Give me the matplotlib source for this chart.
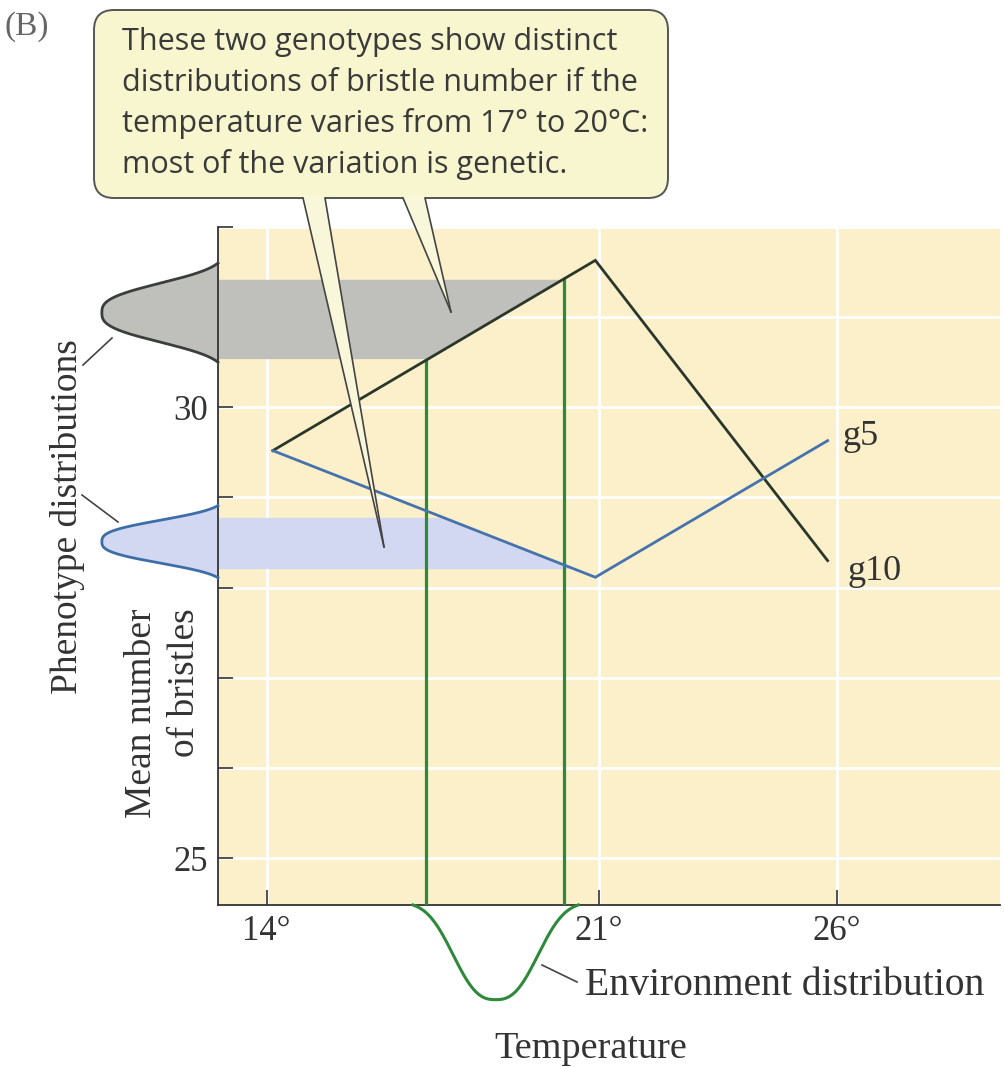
import numpy as np
import matplotlib
matplotlib.use("Agg")
import matplotlib.pyplot as plt
from matplotlib.patches import FancyBboxPatch, Polygon
from matplotlib.lines import Line2D
from matplotlib.transforms import IdentityTransform

# ---------------- data ----------------
temps_g = [14.13, 20.92, 25.81]          # vertices of the reaction norms (deg C)
g10_vals = [29.52, 31.63, 28.30]         # mean bristles, genotype g10
g5_vals = [29.52, 28.115, 29.63]         # mean bristles, genotype g5
env_range = [17.35, 20.26]               # temperature range (green verticals)
env_center = 18.82
env_halfspan = 1.74
env_depth = 1.05
gray_band = [30.54, 31.42]               # phenotype range of g10
blue_band = [28.21, 28.78]               # phenotype range of g5
gray_dist = [31.05, 0.55]                # centre, half-span
blue_dist = [28.51, 0.40]
dist_peak_x = 10.53
x_ticks = [14, 21, 26]
x_tick_labels = ["14°", "21°", "26°"]
y_ticks = [25, 26, 27, 28, 29, 30, 31, 32]
y_tick_labels = ["25", "", "", "", "", "30", "", ""]
box_lines = ["These two genotypes show distinct",
             "distributions of bristle number if the",
             "temperature varies from 17° to 20°C:",
             "most of the variation is genetic."]

W, H = 1005, 1067
SERIF = ["Liberation Serif", "DejaVu Serif"]
SANS = ["Open Sans", "DejaVu Sans"]

BG = "#fbf0ca"
G10C = "#2b372b"
G5C = "#4672ad"
GREEN = "#2e8a3a"
GRAYF = "#bfc0bb"
GRAYE = "#3b3f3b"
BLUEF = "#d3d8f2"
BLUEE = "#3d6ea8"
BOXF = "#f7f6cf"
TXT = "#333333"

fig = plt.figure(figsize=(W / 100, H / 100), dpi=100)
ax = fig.add_axes([218 / W, 1 - 905 / H, 782 / W, 678 / H])
xlim = (12.975, 29.44)
ylim = (24.48, 32.0)
ax.set_xlim(*xlim)
ax.set_ylim(*ylim)
ax.set_facecolor(BG)

for s in ["top", "right"]:
    ax.spines[s].set_visible(False)
for s in ["left", "bottom"]:
    ax.spines[s].set_color("#333333")
    ax.spines[s].set_linewidth(1.3)

ax.set_xticks(x_ticks)
ax.set_xticklabels(x_tick_labels)
ax.set_yticks(y_ticks)
ax.set_yticklabels(y_tick_labels)
ax.tick_params(direction="in", length=11, width=1.2, colors="#333333", pad=7)
for lab in ax.get_xticklabels() + ax.get_yticklabels():
    lab.set_family(SERIF)
    lab.set_fontsize(25)
    lab.set_color(TXT)
ax.grid(True, color="white", lw=2.0, zorder=0)
ax.set_axisbelow(True)

# bands bounded by the reaction norms
yb = np.linspace(gray_band[0], gray_band[1], 50)
xg = np.interp(yb, [g10_vals[0], g10_vals[1]], [temps_g[0], temps_g[1]])
ax.fill_betweenx(yb, xlim[0], xg, color=GRAYF, lw=0, zorder=1)
yb2 = np.linspace(blue_band[0], blue_band[1], 50)
xb = np.interp(yb2, [g5_vals[1], g5_vals[0]], [temps_g[1], temps_g[0]])
ax.fill_betweenx(yb2, xlim[0], xb, color=BLUEF, lw=0, zorder=1)

# phenotype distributions (left of the axis)
def profile(t, a=0.7, p=2.8):
    f = np.exp(-np.abs(t / a) ** p)
    f1 = np.exp(-(1 / a) ** p)
    return (f - f1) / (1 - f1)

amp = xlim[0] - dist_peak_x
t = np.linspace(-1, 1, 300)
for (c, h), fc, ec in [(gray_dist, GRAYF, GRAYE), (blue_dist, BLUEF, BLUEE)]:
    yy = c + h * t
    xx = xlim[0] - amp * profile(t)
    ax.fill_betweenx(yy, xx, xlim[0], color=fc, lw=0, clip_on=False, zorder=2)
    ax.plot(xx, yy, color=ec, lw=2.0, clip_on=False, zorder=3)

# environment distribution (below the axis)
te = np.linspace(-1, 1, 300)
xe = env_center + env_halfspan * te
ye = ylim[0] - env_depth * profile(te, a=0.62, p=2.6)
ax.plot(xe, ye, color=GREEN, lw=2.2, clip_on=False, zorder=3)

# green verticals up to g10
for xv in env_range:
    ytop = np.interp(xv, temps_g, g10_vals)
    ax.plot([xv, xv], [ylim[0], ytop], color=GREEN, lw=2.3, zorder=4)

# reaction norms
ax.plot(temps_g, g10_vals, color=G10C, lw=2.0, zorder=5, solid_joinstyle="miter")
ax.plot(temps_g, g5_vals, color=G5C, lw=2.0, zorder=5, solid_joinstyle="miter")
ax.text(26.13, 29.58, "g5", fontsize=26, family=SERIF,
        color=TXT, va="baseline", ha="left")
ax.text(26.22, 28.08, "g10", fontsize=26, family=SERIF,
        color=TXT, va="baseline", ha="left")

# ---------------- annotations in pixel space ----------------
ID = IdentityTransform()

def P(x, y):
    return (x, H - y)

def ptext(x, y, s, **kw):
    fig.text(x, H - y, s, transform=ID, **kw)

def pline(pts, **kw):
    xs = [p[0] for p in pts]
    ys = [H - p[1] for p in pts]
    fig.add_artist(Line2D(xs, ys, transform=ID, **kw))

ptext(5, 27, "(B)", fontsize=24, family=SERIF, color="#666666", va="center", ha="left")
ptext(68, 517, "Phenotype distributions", fontsize=27, family=SERIF, color=TXT,
      rotation=90, ha="center", va="center")
ptext(142, 608, "Mean number", fontsize=27, family=SERIF, color=TXT,
      rotation=90, ha="center", va="top")
ptext(185, 608, "of bristles", fontsize=27, family=SERIF, color=TXT,
      rotation=90, ha="center", va="top")
ptext(591, 1058, "Temperature", fontsize=27.5, family=SERIF, color=TXT,
      ha="center", va="baseline")
ptext(585, 995, "Environment distribution", fontsize=28.5, family=SERIF, color=TXT,
      ha="left", va="baseline")

pline([(112, 338), (83, 365)], color="#444444", lw=1.2)
pline([(118, 522), (82, 495)], color="#444444", lw=1.2)
pline([(542, 965), (577, 982)], color="#444444", lw=1.2)

# callout box
bx0, bx1, by0, by1 = 94, 668, 10, 198
box = FancyBboxPatch((bx0, H - by1), bx1 - bx0, by1 - by0,
                     boxstyle="round,pad=0,rounding_size=20",
                     transform=ID, facecolor=BOXF, edgecolor="#555555", lw=1.4,
                     zorder=10)
fig.add_artist(box)
for i, line in enumerate(box_lines):
    ptext(122, 50 + 41 * i, line, fontsize=22, family=SANS, color="#3a3a3a",
          ha="left", va="baseline", zorder=12)

for (b0, b1, tip) in [(303, 325, (384, 547)), (403, 425, (451, 312))]:
    poly = Polygon([P(b0, by1 - 3), P(b0, by1), P(*tip), P(b1, by1), P(b1, by1 - 3)],
                   closed=True, transform=ID, facecolor="#f9f7da",
                   edgecolor="none", zorder=11)
    fig.add_artist(poly)
    pline([(b0, by1), tip], color="#444444", lw=1.2, zorder=12)
    pline([(b1, by1), tip], color="#444444", lw=1.2, zorder=12)

fig.savefig("out.png", dpi=100)
